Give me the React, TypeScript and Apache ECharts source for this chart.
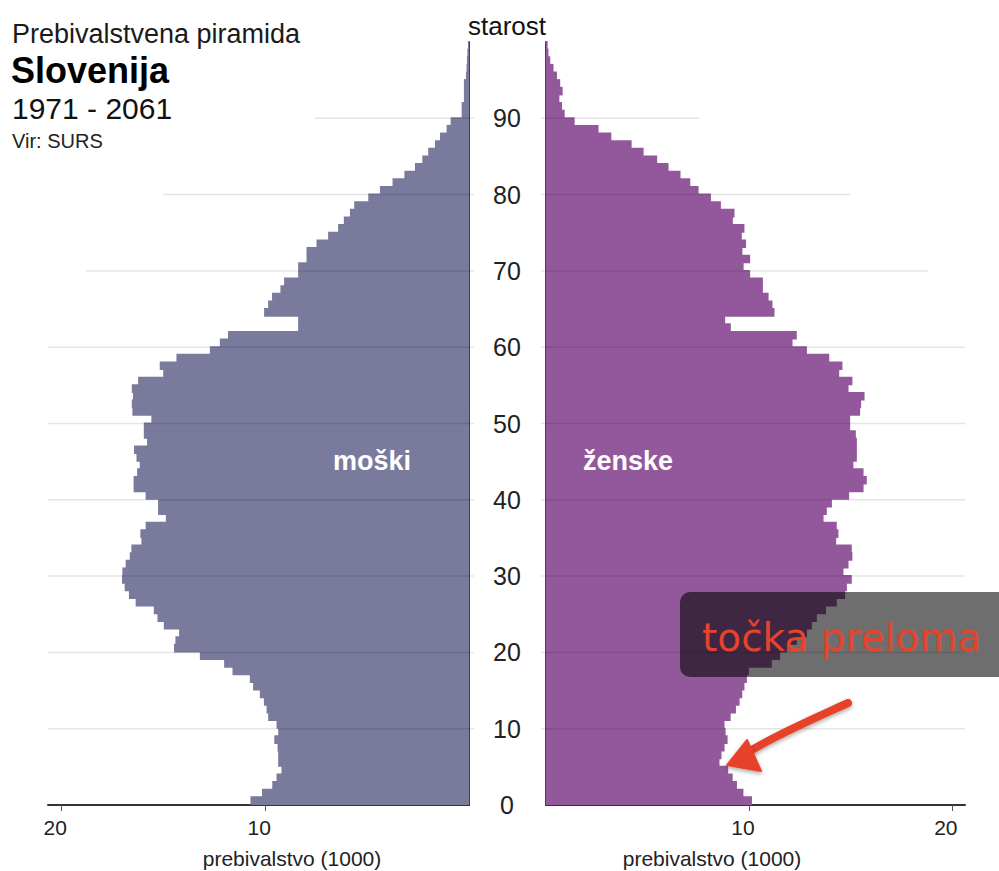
import React, { useEffect, useRef } from "react";
import * as echarts from "echarts";

// Age (years) for each bar: 0 .. 99
const ages: number[] = [
  0, 1, 2, 3, 4, 5, 6, 7, 8, 9, 10, 11, 12, 13, 14, 15, 16, 17, 18, 19,
  20, 21, 22, 23, 24, 25, 26, 27, 28, 29, 30, 31, 32, 33, 34, 35, 36, 37, 38, 39,
  40, 41, 42, 43, 44, 45, 46, 47, 48, 49, 50, 51, 52, 53, 54, 55, 56, 57, 58, 59,
  60, 61, 62, 63, 64, 65, 66, 67, 68, 69, 70, 71, 72, 73, 74, 75, 76, 77, 78, 79,
  80, 81, 82, 83, 84, 85, 86, 87, 88, 89, 90, 91, 92, 93, 94, 95, 96, 97, 98, 99,
];

// Population in thousands, men (moški), by age
const male: number[] = [
  10.72, 10.15, 9.65, 9.44, 9.2, 9.36, 9.36, 9.39, 9.55, 9.36,
  9.44, 9.85, 9.93, 10.06, 10.26, 10.59, 10.75, 11.6, 12.01, 13.2,
  14.47, 14.4, 14.22, 14.97, 15.28, 15.46, 16.35, 16.68, 16.89, 17.02,
  17.0, 16.84, 16.64, 16.56, 16.07, 16.12, 15.86, 14.87, 15.25, 15.25,
  15.86, 16.45, 16.45, 16.28, 16.15, 16.31, 16.43, 15.79, 15.95, 15.95,
  15.58, 16.51, 16.54, 16.48, 16.54, 16.23, 15.0, 15.17, 14.35, 12.71,
  12.22, 11.82, 8.38, 8.38, 10.05, 9.85, 9.66, 9.25, 9.07, 8.38,
  8.38, 7.97, 7.97, 7.48, 6.91, 6.42, 6.14, 5.84, 5.63, 4.94,
  4.37, 3.75, 3.17, 2.65, 2.29, 2.0, 1.67, 1.42, 1.1, 0.9,
  0.36, 0.36, 0.25, 0.25, 0.25, 0.15, 0.12, 0.1, 0.08, 0.05,
];

// Population in thousands, women (ženske), by age
const female: number[] = [
  10.15, 9.73, 9.41, 9.2, 8.98, 8.55, 8.65, 8.8, 8.95, 8.85,
  8.8, 9.1, 9.36, 9.54, 9.67, 9.78, 9.9, 10.0, 11.13, 11.54,
  11.87, 12.36, 12.86, 13.1, 13.35, 13.8, 14.33, 14.74, 14.83, 15.07,
  14.66, 14.91, 15.1, 15.07, 14.3, 14.41, 14.33, 13.68, 13.84, 14.09,
  14.94, 15.65, 15.81, 15.65, 15.15, 15.32, 15.32, 15.32, 15.27, 14.99,
  14.99, 15.48, 15.53, 15.7, 14.91, 15.1, 14.45, 14.61, 13.96, 12.86,
  12.15, 12.36, 9.11, 8.83, 11.26, 11.16, 10.97, 10.69, 10.69, 10.06,
  9.74, 10.06, 9.68, 9.86, 9.65, 9.78, 9.21, 9.29, 8.62, 8.13,
  7.52, 7.11, 6.63, 6.04, 5.48, 4.81, 4.22, 3.22, 2.59, 1.41,
  0.92, 0.79, 0.66, 0.82, 0.7, 0.54, 0.37, 0.21, 0.12, 0.08,
];

// Horizontal guide lines (age) and how far they reach (thousands)
const gridAges: number[] = [10, 20, 30, 40, 50, 60, 70, 80, 90];
const gridReach: number[] = [20.65, 20.65, 20.65, 20.65, 20.65, 20.65, 18.8, 15.0, 7.55];

const ageTicks: number[] = [0, 10, 20, 30, 40, 50, 60, 70, 80, 90];
const popTicks: number[] = [10, 20];

const MALE_COLOR = "#797a9c";
const FEMALE_COLOR = "#93589b";
const FONT = '"Liberation Sans", Arial, Helvetica, sans-serif';
const RED = "#e6432c";

function barRender(color: string) {
  return (params: any, api: any) => {
    const v = api.value(0);
    const a = api.value(1);
    const p0 = api.coord([0, a]);
    const p1 = api.coord([v, a + 1]);
    return {
      type: "rect",
      shape: {
        x: Math.min(p0[0], p1[0]),
        y: p1[1] - 1,
        width: Math.abs(p1[0] - p0[0]),
        height: p0[1] - p1[1] + 1,
      },
      style: { fill: color },
    };
  };
}

function guideRender(params: any, api: any) {
  const len = api.value(0);
  const a = api.value(1);
  const p0 = api.coord([-0.25, a]);
  const p1 = api.coord([len, a]);
  return {
    type: "line",
    shape: { x1: p0[0], y1: p0[1], x2: p1[0], y2: p1[1] },
    style: { stroke: "rgba(0,0,0,0.1)", lineWidth: 1.5 },
  };
}

export default function App() {
  const ref = useRef<HTMLDivElement>(null);

  useEffect(() => {
    if (!ref.current) return;
    const chart = echarts.init(ref.current, undefined, { renderer: "svg" });

    const xAxisCommon = {
      type: "value",
      min: 0,
      max: 20.65,
      interval: 10,
      axisLine: { show: true, lineStyle: { color: "#333", width: 2 } },
      axisTick: { show: true, customValues: popTicks, length: 6, lineStyle: { color: "#555", width: 1 } },
      axisLabel: {
        customValues: popTicks,
        fontSize: 21,
        fontFamily: FONT,
        color: "#222",
        margin: 12,
        padding: [0, 12, 0, 0],
      },
      splitLine: { show: false },
    };

    const option: any = {
      animation: false,
      grid: [
        { left: 48, top: 42, width: 421, height: 763 },
        { left: 546, top: 42, width: 419, height: 763 },
      ],
      xAxis: [
        { ...xAxisCommon, gridIndex: 0, inverse: true },
        { ...xAxisCommon, gridIndex: 1 },
      ],
      yAxis: [
        {
          type: "value",
          gridIndex: 0,
          min: 0,
          max: 100,
          interval: 10,
          position: "right",
          axisLine: { show: true, lineStyle: { color: "#3c3c68", width: 2 } },
          axisTick: { show: false },
          axisLabel: { show: false },
          splitLine: { show: false },
        },
        {
          type: "value",
          gridIndex: 1,
          min: 0,
          max: 100,
          interval: 10,
          position: "left",
          axisLine: { show: true, lineStyle: { color: "#6a2c76", width: 2 } },
          axisTick: { show: false },
          axisLabel: {
            customValues: ageTicks,
            align: "center",
            margin: 39,
            fontSize: 25,
            fontFamily: FONT,
            color: "#222",
          },
          splitLine: { show: false },
        },
      ],
      series: [
        {
          name: "moški",
          type: "custom",
          xAxisIndex: 0,
          yAxisIndex: 0,
          renderItem: barRender(MALE_COLOR),
          encode: { x: 0, y: 1 },
          data: ages.map((a, i) => [male[i], a]),
          z: 2,
        },
        {
          name: "ženske",
          type: "custom",
          xAxisIndex: 1,
          yAxisIndex: 1,
          renderItem: barRender(FEMALE_COLOR),
          encode: { x: 0, y: 1 },
          data: ages.map((a, i) => [female[i], a]),
          z: 2,
        },
        {
          type: "custom",
          xAxisIndex: 0,
          yAxisIndex: 0,
          renderItem: guideRender,
          encode: { x: 0, y: 1 },
          data: gridAges.map((a, i) => [gridReach[i], a]),
          z: 3,
          silent: true,
        },
        {
          type: "custom",
          xAxisIndex: 1,
          yAxisIndex: 1,
          renderItem: guideRender,
          encode: { x: 0, y: 1 },
          data: gridAges.map((a, i) => [gridReach[i], a]),
          z: 3,
          silent: true,
        },
      ],
      graphic: [
        {
          type: "text",
          x: 12,
          y: 34,
          style: { text: "Prebivalstvena piramida", font: `27px ${FONT}`, fill: "#1a1a1a", textVerticalAlign: "middle" },
        },
        {
          type: "text",
          x: 11,
          y: 70,
          style: { text: "Slovenija", font: `bold 36px ${FONT}`, fill: "#000", textVerticalAlign: "middle" },
        },
        {
          type: "text",
          x: 12,
          y: 108,
          style: { text: "1971 - 2061", font: `30px ${FONT}`, fill: "#111", textVerticalAlign: "middle" },
        },
        {
          type: "text",
          x: 12,
          y: 141,
          style: { text: "Vir: SURS", font: `20px ${FONT}`, fill: "#222", textVerticalAlign: "middle" },
        },
        {
          type: "text",
          x: 507,
          y: 26,
          style: { text: "starost", font: `26px ${FONT}`, fill: "#111", textAlign: "center", textVerticalAlign: "middle" },
        },
        {
          type: "text",
          x: 372,
          y: 461,
          z: 10,
          style: { text: "moški", font: `bold 27px ${FONT}`, fill: "#fff", textAlign: "center", textVerticalAlign: "middle" },
        },
        {
          type: "text",
          x: 628,
          y: 461,
          z: 10,
          style: { text: "ženske", font: `bold 27px ${FONT}`, fill: "#fff", textAlign: "center", textVerticalAlign: "middle" },
        },
        {
          type: "text",
          x: 292,
          y: 858,
          style: { text: "prebivalstvo (1000)", font: `21px ${FONT}`, fill: "#222", textAlign: "center", textVerticalAlign: "middle" },
        },
        {
          type: "text",
          x: 712,
          y: 858,
          style: { text: "prebivalstvo (1000)", font: `21px ${FONT}`, fill: "#222", textAlign: "center", textVerticalAlign: "middle" },
        },
        {
          type: "rect",
          z: 20,
          shape: { x: 680, y: 592, width: 340, height: 85, r: 10 },
          style: { fill: "rgba(0,0,0,0.57)" },
        },
        {
          type: "text",
          z: 21,
          x: 702,
          y: 637,
          style: {
            text: "točka preloma",
            font: `39px "DejaVu Sans", ${FONT}`,
            fill: RED,
            textVerticalAlign: "middle",
            shadowColor: "rgba(0,0,0,0.35)",
            shadowBlur: 3,
            shadowOffsetY: 1,
          },
        },
        {
          type: "bezierCurve",
          z: 21,
          shape: { x1: 848, y1: 703, cpx1: 815, cpy1: 718, cpx2: 780, cpy2: 733, x2: 750, y2: 751 },
          style: {
            stroke: RED,
            lineWidth: 8,
            lineCap: "round",
            fill: null,
            shadowColor: "rgba(0,0,0,0.35)",
            shadowBlur: 4,
            shadowOffsetY: 2,
          },
        },
        {
          type: "polygon",
          z: 21,
          shape: { points: [[727, 765], [747, 740], [761, 771]] },
          style: {
            fill: RED,
            stroke: RED,
            lineWidth: 2,
            lineJoin: "round",
            shadowColor: "rgba(0,0,0,0.35)",
            shadowBlur: 4,
            shadowOffsetY: 2,
          },
        },
      ],
    };

    chart.setOption(option);
    return () => chart.dispose();
  }, []);

  return (
    <div
      ref={ref}
      style={{ position: "fixed", left: 0, top: 0, width: 999, height: 871, background: "#fff" }}
    />
  );
}
